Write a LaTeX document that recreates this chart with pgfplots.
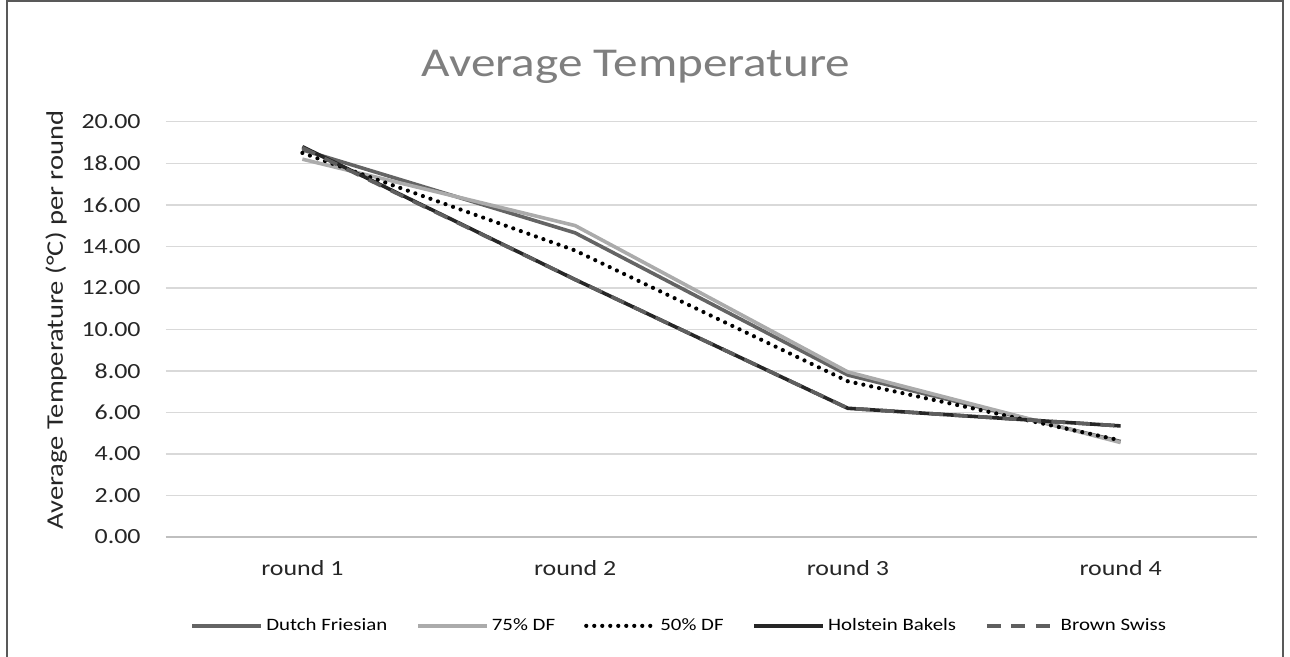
\documentclass[border=0pt]{standalone}
\usepackage{fontspec}
\setmainfont{Carlito}[FakeStretch=1.2]
\usepackage{pgfplots}
\pgfplotsset{compat=1.18}
\definecolor{cDF}{HTML}{646464}
\definecolor{c75}{HTML}{ABABAB}
\definecolor{c50}{HTML}{000000}
\definecolor{cHB}{HTML}{262626}
\definecolor{cBS}{HTML}{5F5F5F}
\definecolor{gridgray}{HTML}{D9D9D9}
\definecolor{axgray}{HTML}{BFBFBF}
\definecolor{titlegray}{HTML}{7F7F7F}
\definecolor{framegray}{HTML}{595959}
\begin{document}
\begin{tikzpicture}
\useasboundingbox (-83pt,-60pt) rectangle (562pt,268.5pt);
\draw[color=framegray, line width=1pt] (-79.5pt,-62pt) -- (-79.5pt,268pt) -- (558.5pt,268pt) -- (558.5pt,-62pt);
\begin{axis}[
  at={(0pt,0pt)}, anchor=south west,
  scale only axis, width=545.5pt, height=207.6pt,
  xmin=0.5, xmax=4.5, ymin=0, ymax=20,
  xtick={1,2,3,4}, xticklabels={round 1,round 2,round 3,round 4},
  ytick={0,2,...,20},
  axis x line*=bottom, axis y line*=left,
  x axis line style={-, color=axgray, line width=0.75pt},
  y axis line style={draw=none},
  major tick length=0pt, tick style={draw=none},
  ymajorgrids, grid style={color=gridgray, line width=0.7pt},
  ticklabel style={font=\fontsize{10.8}{12}\selectfont, color=black!85},
  yticklabel style={anchor=east, inner sep=0pt, xshift=-12.5pt},
  xticklabel style={anchor=north, inner sep=0pt, yshift=-11.5pt},
  /pgf/number format/.cd, fixed, fixed zerofill, precision=2, assume math mode=true,
  /pgfplots/.cd,
  legend columns=5,
  legend style={at={(0.471,-0.214)}, anchor=center, draw=none, fill=none,
    font=\fontsize{8.7}{10}\selectfont,
    nodes={inner sep=1.5pt},
    /tikz/every even column/.append style={column sep=13pt}},
  legend cell align=left,
  legend image code/.code={\draw[#1] (0pt,0pt) -- (34.5pt,0pt);},
  every axis plot/.append style={line join=round},
]
\addplot[color=cDF, line width=1.8pt] coordinates {(1,18.65)(2,14.65)(3,7.8)(4,4.6)};
\addplot[color=c75, line width=1.8pt] coordinates {(1,18.2)(2,15.0)(3,7.95)(4,4.55)};
\addplot[color=c50, line width=2.1pt, line cap=round, dash pattern=on 0pt off 4pt] coordinates {(1,18.5)(2,13.8)(3,7.5)(4,4.65)};
\addplot[color=cHB, line width=1.8pt] coordinates {(1,18.8)(2,12.4)(3,6.2)(4,5.35)};
\addplot[color=cBS, line width=1.8pt, dash pattern=on 7pt off 5.25pt] coordinates {(1,18.75)(2,12.4)(3,6.2)(4,5.35)};
\legend{Dutch Friesian, 75\% DF, 50\% DF, Holstein Bakels, Brown Swiss}
\end{axis}
\node[font=\fontsize{20.5}{24}\selectfont, color=titlegray, anchor=base] at (235pt,230pt) {Average Temperature};
\node[rotate=90, anchor=base, font=\fontsize{11.9}{13}\selectfont, color=black!85] at (-51.5pt,108.5pt) {Average Temperature (°C) per round};
\end{tikzpicture}
\end{document}
